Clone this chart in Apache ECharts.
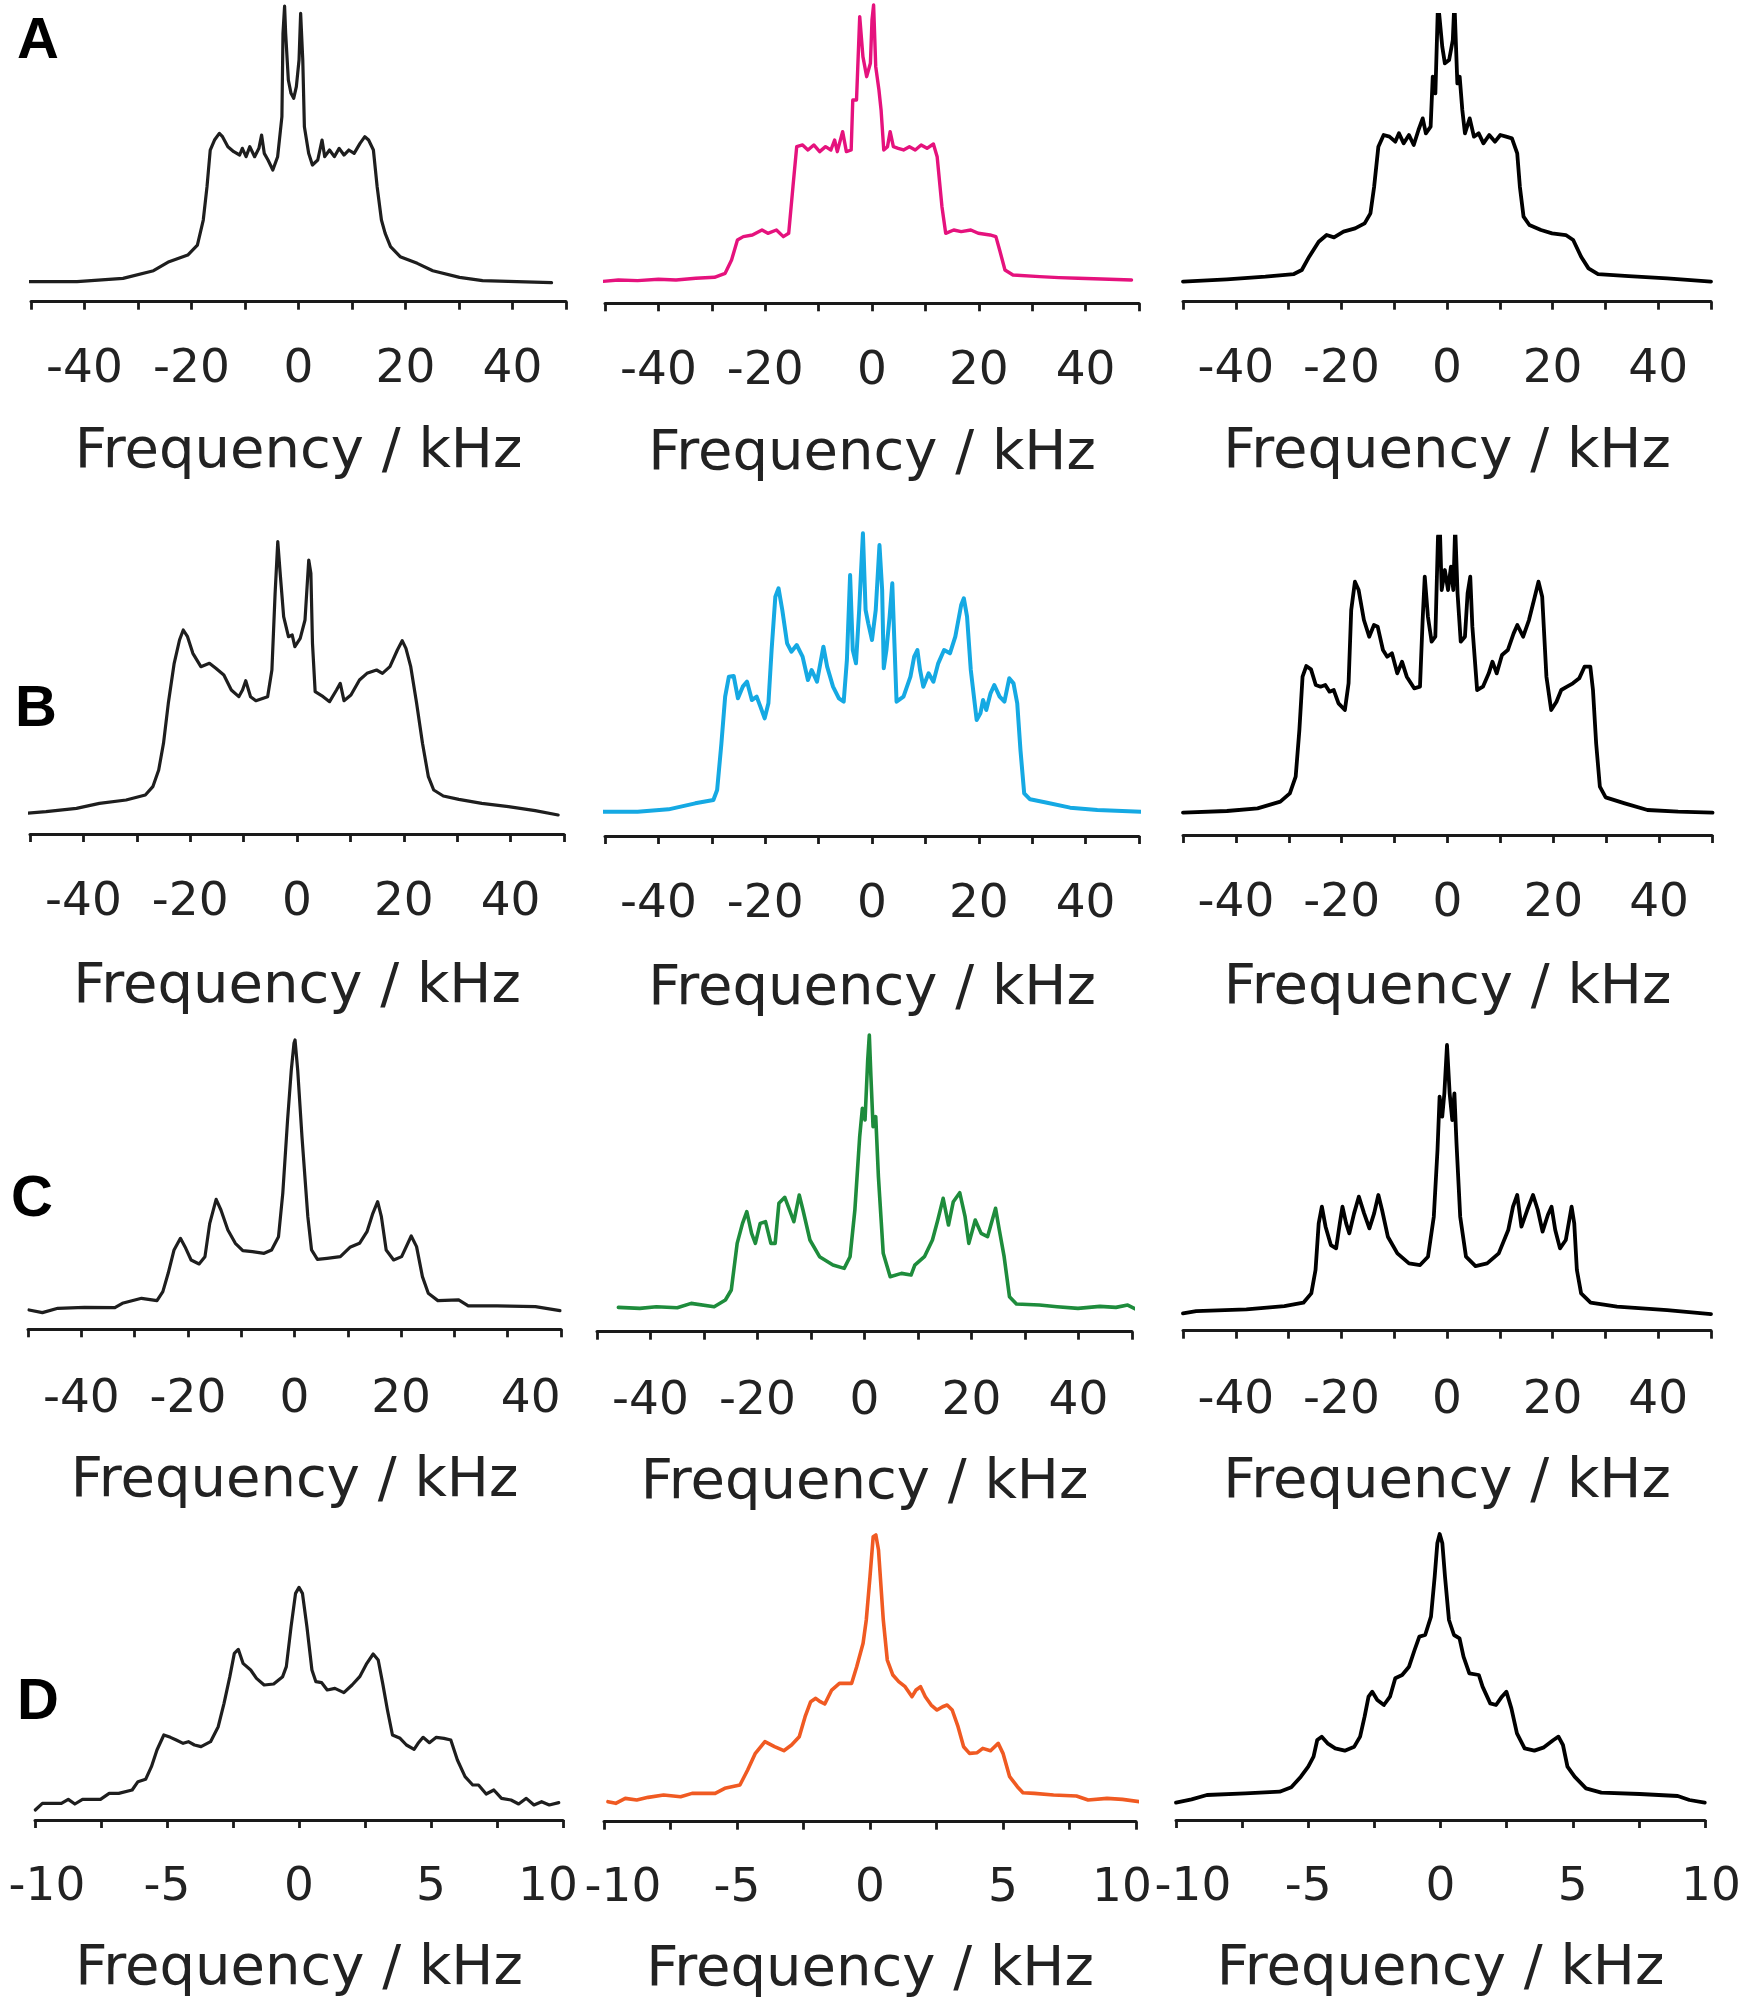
<!DOCTYPE html>
<html>
<head>
<meta charset="utf-8">
<script src="https://cdn.jsdelivr.net/npm/echarts@6/dist/echarts.min.js"></script>
<style>
html,body{margin:0;padding:0;background:#fff;}
#chart{width:1750px;height:2011px;}
</style>
</head>
<body>
<div id="chart"></div>
<script>
// ---- spectra: [frequency kHz, intensity a.u.] ----
const specA1 = [[-51.1,60],[-41.4,60],[-32.8,70],[-27.1,93],[-24.2,120],[-20.7,140],[-18.9,170],[-17.8,245],[-17.1,345],[-16.5,455],[-15.7,485],[-14.8,505],[-14.2,495],[-13.2,465],[-12.1,450],[-11.0,440],[-10.5,460],[-9.8,435],[-9.1,465],[-8.2,435],[-7.4,460],[-6.9,500],[-6.4,445],[-5.7,425],[-4.8,395],[-3.9,435],[-3.1,555],[-2.9,805],[-2.6,887],[-2.4,805],[-1.9,665],[-1.4,625],[-0.9,610],[-0.4,645],[0.1,725],[0.4,865],[0.8,725],[1.1,525],[1.9,445],[2.6,410],[3.6,425],[4.4,485],[4.9,435],[5.8,455],[6.7,435],[7.6,460],[8.5,440],[9.4,455],[10.4,445],[11.5,475],[12.4,495],[13.1,485],[14.0,455],[14.7,345],[15.5,245],[16.2,205],[17.2,165],[19.0,135],[22.2,115],[25.1,93],[30.1,73],[34.4,63],[40.8,60],[47.3,57]];
const specA2 = [[-51.0,65],[-47.5,70],[-43.9,68],[-40.0,72],[-36.7,70],[-33.0,75],[-29.5,78],[-27.5,90],[-26.3,130],[-25.2,190],[-24.1,200],[-22.4,205],[-20.6,220],[-19.5,210],[-17.9,220],[-16.6,200],[-15.6,210],[-14.8,350],[-14.1,470],[-13.0,475],[-12.0,460],[-10.9,475],[-9.8,455],[-8.7,470],[-7.7,460],[-7.0,490],[-6.5,455],[-5.5,515],[-4.8,455],[-3.9,460],[-3.6,610],[-2.9,610],[-2.3,860],[-1.7,740],[-1.0,680],[-0.3,720],[0.0,850],[0.3,895],[0.7,710],[1.3,640],[1.7,580],[2.2,460],[2.9,470],[3.4,515],[4.0,470],[4.9,465],[5.9,460],[7.0,470],[8.1,460],[9.2,475],[10.3,465],[11.5,478],[12.2,440],[13.1,290],[13.8,210],[15.3,220],[16.7,215],[18.5,220],[19.9,210],[22.1,205],[23.2,200],[23.9,160],[24.9,100],[26.4,85],[31.4,80],[35.0,77],[38.6,75],[43.0,73],[48.6,70]];
const specA3 = [[-50.0,60],[-41.7,67],[-34.4,75],[-29.0,83],[-27.5,95],[-26.1,135],[-24.3,180],[-22.8,200],[-21.4,193],[-19.6,210],[-17.4,220],[-15.6,235],[-14.5,265],[-13.8,345],[-13.0,465],[-12.0,500],[-10.9,495],[-9.8,480],[-9.1,505],[-8.2,475],[-7.2,500],[-6.3,470],[-5.4,515],[-4.6,550],[-4.0,505],[-3.1,525],[-2.7,675],[-2.2,625],[-1.7,900],[-0.9,765],[-0.4,715],[0.4,725],[1.1,785],[1.4,900],[1.96,655],[2.4,675],[2.9,575],[3.4,505],[4.3,550],[5.1,495],[6.0,505],[6.9,475],[8.0,500],[9.1,480],[10.1,500],[11.2,495],[12.3,490],[13.3,445],[13.8,345],[14.5,255],[15.6,230],[17.8,215],[19.9,205],[22.5,200],[23.9,185],[25.4,135],[26.8,100],[28.6,83],[34.4,77],[41.7,70],[50.0,60]];
const specB1 = [[-51.0,62],[-47.0,67],[-41.3,77],[-37.0,92],[-32.0,102],[-28.4,117],[-27.0,142],[-25.9,192],[-25.0,272],[-24.1,392],[-23.0,512],[-22.0,582],[-21.3,612],[-20.5,592],[-19.5,542],[-18.0,502],[-16.4,512],[-15.2,497],[-13.7,477],[-12.3,432],[-10.9,412],[-10.2,432],[-9.6,460],[-8.7,412],[-7.7,400],[-5.5,412],[-4.7,492],[-4.1,722],[-3.6,877],[-3.1,772],[-2.5,652],[-1.6,592],[-0.9,597],[-0.4,562],[0.6,587],[1.5,642],[2.2,822],[2.6,782],[2.9,572],[3.4,427],[4.9,412],[6.1,397],[7.4,432],[8.1,452],[8.8,400],[10.1,417],[11.7,462],[13.1,482],[14.9,492],[16.0,482],[17.4,502],[18.8,552],[19.7,580],[20.4,557],[21.3,502],[22.4,392],[23.5,272],[24.6,172],[25.6,132],[27.4,114],[30.3,104],[34.6,92],[39.6,82],[44.6,70],[48.9,57]];
const specB2 = [[-51.0,73],[-43.9,73],[-38.1,80],[-33.1,98],[-29.7,108],[-29.0,138],[-28.2,278],[-27.5,418],[-26.8,478],[-25.9,480],[-25.1,413],[-24.2,448],[-23.4,463],[-22.5,408],[-21.6,418],[-20.9,388],[-20.1,353],[-19.4,398],[-18.8,558],[-18.1,718],[-17.5,743],[-16.8,678],[-15.9,578],[-15.1,553],[-14.1,573],[-13.0,538],[-12.0,468],[-11.3,498],[-10.3,463],[-9.1,568],[-8.4,508],[-7.3,448],[-6.2,413],[-5.3,403],[-4.7,528],[-4.1,783],[-3.6,558],[-3.0,518],[-2.4,678],[-2.1,778],[-1.7,908],[-1.2,678],[-0.7,638],[0.0,588],[0.7,678],[1.4,873],[1.9,738],[2.2,503],[2.7,558],[3.3,658],[3.8,758],[4.2,578],[4.6,403],[5.9,418],[7.2,478],[7.9,538],[8.5,558],[9.0,498],[9.6,448],[10.6,488],[11.5,463],[12.4,518],[13.5,558],[14.6,548],[15.6,598],[16.7,693],[17.2,713],[17.8,658],[18.5,498],[19.6,348],[20.3,368],[20.8,408],[21.4,378],[22.2,428],[22.9,453],[23.9,418],[24.8,403],[25.7,473],[26.5,458],[27.2,398],[27.8,258],[28.5,128],[29.6,110],[32.8,100],[37.1,85],[42.2,78],[50.4,73]];
const specB3 = [[-50.0,67],[-41.7,72],[-35.9,80],[-31.6,100],[-29.8,125],[-28.7,175],[-28.0,315],[-27.4,475],[-26.7,507],[-25.8,497],[-24.9,450],[-24.0,445],[-23.1,450],[-22.3,430],[-21.5,435],[-20.6,395],[-19.4,375],[-18.7,455],[-18.2,675],[-17.5,760],[-16.8,735],[-15.8,645],[-14.8,595],[-13.9,630],[-13.2,625],[-12.2,555],[-11.4,535],[-10.5,545],[-9.5,485],[-8.6,520],[-7.7,475],[-6.3,440],[-5.2,445],[-4.7,645],[-4.3,775],[-3.7,655],[-3.0,580],[-2.3,595],[-1.8,895],[-1.45,925],[-1.1,735],[-0.5,795],[0.1,735],[0.65,805],[1.1,735],[1.45,925],[1.9,725],[2.5,580],[3.3,595],[3.8,725],[4.3,775],[4.7,625],[5.6,435],[6.7,445],[7.8,485],[8.5,520],[9.3,485],[10.3,540],[11.4,555],[12.5,605],[13.2,630],[14.3,595],[15.4,645],[16.5,715],[17.2,760],[17.9,715],[18.7,475],[19.6,375],[20.6,400],[21.5,435],[22.6,445],[23.7,455],[24.9,470],[25.9,505],[27.0,505],[27.5,435],[28.1,275],[28.8,145],[29.9,113],[33.5,95],[37.8,75],[43.6,70],[50.1,67]];
const specC1 = [[-49.8,58],[-47.3,50],[-44.4,63],[-39.4,66],[-33.7,65],[-32.3,78],[-28.7,93],[-25.8,86],[-24.7,113],[-23.7,168],[-22.6,238],[-21.4,273],[-20.4,243],[-19.4,208],[-17.9,196],[-16.8,218],[-15.9,318],[-14.7,390],[-13.8,358],[-12.5,298],[-11.1,258],[-9.7,236],[-7.9,233],[-5.7,228],[-4.3,238],[-3.0,278],[-2.2,408],[-1.3,628],[-0.6,778],[-0.1,858],[0.1,868],[0.6,778],[1.4,578],[2.5,338],[3.2,238],[4.3,210],[6.1,213],[8.6,218],[10.4,246],[12.2,258],[13.6,293],[14.7,348],[15.6,383],[16.3,338],[17.2,238],[18.6,208],[20.1,218],[21.9,280],[22.9,248],[24.0,158],[25.1,108],[26.9,86],[30.8,88],[32.6,70],[38.0,70],[45.2,68],[49.8,56]];
const specC2 = [[-46.0,73],[-42.0,70],[-38.9,75],[-35.0,72],[-32.4,85],[-28.1,75],[-26.0,95],[-24.9,125],[-23.8,265],[-22.8,325],[-22.0,360],[-21.1,295],[-20.4,265],[-19.5,325],[-18.5,330],[-17.5,265],[-16.7,265],[-16.0,385],[-14.9,403],[-14.0,365],[-13.2,330],[-12.2,410],[-11.5,365],[-10.2,275],[-8.4,225],[-5.9,200],[-3.8,190],[-2.7,225],[-1.8,365],[-0.9,585],[-0.4,670],[0.1,635],[0.6,815],[0.9,890],[1.2,765],[1.6,615],[2.1,645],[2.6,465],[3.5,235],[4.8,165],[6.9,175],[8.7,170],[9.4,200],[11.2,225],[12.7,275],[13.7,335],[14.7,400],[15.7,320],[16.6,390],[17.8,417],[18.8,345],[19.5,265],[20.7,335],[21.8,295],[23.0,285],[24.5,370],[25.2,305],[26.1,225],[27.1,105],[28.4,83],[32.7,80],[36.0,75],[39.9,70],[44.0,76],[47.0,73],[49.2,80],[51.7,60]];
const specC3 = [[-50.0,52],[-47.5,59],[-38.0,64],[-30.8,74],[-27.2,84],[-25.7,112],[-24.9,182],[-24.3,322],[-23.7,372],[-23.0,312],[-22.0,257],[-21.0,247],[-20.3,322],[-19.8,372],[-19.1,322],[-18.5,292],[-17.6,352],[-16.7,402],[-15.7,352],[-14.7,307],[-13.8,352],[-13.0,407],[-12.3,362],[-11.2,282],[-9.4,232],[-7.2,202],[-5.1,197],[-3.6,222],[-2.5,342],[-1.8,542],[-1.4,702],[-0.9,642],[-0.5,712],[0.0,857],[0.5,712],[1.0,632],[1.4,712],[1.8,562],[2.5,342],[3.6,222],[5.4,194],[7.6,202],[9.8,232],[11.6,302],[12.5,372],[13.3,407],[14.1,312],[15.2,362],[16.3,407],[17.2,362],[18.1,297],[19.1,347],[19.8,372],[20.5,302],[21.4,247],[22.5,272],[23.6,372],[24.1,322],[24.6,182],[25.4,112],[27.2,84],[32.2,72],[41.7,62],[50.0,50]];
const specD1 = [[-9.99,30],[-9.72,50],[-9.29,50],[-9.0,50],[-8.74,62],[-8.49,48],[-8.2,62],[-7.52,62],[-7.19,80],[-6.83,80],[-6.32,90],[-6.1,115],[-5.81,122],[-5.59,160],[-5.38,210],[-5.12,255],[-4.87,248],[-4.65,240],[-4.39,230],[-4.19,235],[-3.96,225],[-3.71,220],[-3.35,235],[-3.06,280],[-2.84,350],[-2.62,430],[-2.45,500],[-2.3,512],[-2.12,470],[-1.83,450],[-1.61,425],[-1.32,405],[-0.96,408],[-0.62,430],[-0.48,460],[-0.3,580],[-0.13,680],[0.0,698],[0.13,680],[0.3,580],[0.49,450],[0.64,415],[0.86,412],[1.07,390],[1.36,395],[1.7,382],[2.01,405],[2.3,430],[2.57,470],[2.81,498],[3.0,480],[3.17,410],[3.35,330],[3.54,255],[3.83,245],[4.07,225],[4.36,212],[4.51,230],[4.7,248],[4.94,232],[5.2,248],[5.49,245],[5.75,240],[6.0,180],[6.29,130],[6.58,105],[6.8,105],[7.09,78],[7.38,90],[7.67,65],[8.03,60],[8.32,48],[8.61,65],[8.9,45],[9.19,55],[9.48,45],[9.84,52]];
const specD2 = [[-9.85,60],[-9.56,55],[-9.2,70],[-8.77,65],[-8.34,73],[-7.76,80],[-7.12,75],[-6.69,85],[-6.18,85],[-5.82,85],[-5.46,100],[-4.89,110],[-4.6,155],[-4.31,205],[-3.95,240],[-3.59,225],[-3.24,213],[-2.95,230],[-2.66,255],[-2.44,315],[-2.23,360],[-2.04,370],[-1.87,360],[-1.7,353],[-1.44,395],[-1.15,415],[-0.69,415],[-0.5,465],[-0.26,535],[-0.14,605],[0.0,735],[0.12,855],[0.22,860],[0.32,815],[0.5,605],[0.65,485],[0.86,440],[1.08,420],[1.32,405],[1.58,375],[1.73,395],[1.9,405],[2.08,375],[2.3,350],[2.52,335],[2.73,345],[2.9,350],[3.09,335],[3.31,285],[3.52,225],[3.74,205],[4.03,207],[4.24,220],[4.53,213],[4.82,235],[5.0,205],[5.25,135],[5.54,105],[5.75,87],[6.18,85],[6.9,80],[7.76,77],[8.2,65],[8.91,70],[9.49,67],[10.14,60]];
const specD3 = [[-10.0,52],[-9.41,62],[-8.83,75],[-7.38,80],[-6.08,85],[-5.64,98],[-5.28,130],[-5.0,160],[-4.8,190],[-4.66,240],[-4.49,250],[-4.27,230],[-3.98,215],[-3.62,208],[-3.26,220],[-3.04,250],[-2.87,310],[-2.72,370],[-2.58,385],[-2.39,360],[-2.14,345],[-1.91,370],[-1.71,425],[-1.45,435],[-1.19,460],[-0.98,510],[-0.8,550],[-0.58,555],[-0.36,610],[-0.22,730],[-0.12,830],[-0.03,858],[0.07,830],[0.17,730],[0.32,600],[0.51,555],[0.72,545],[0.87,490],[1.09,440],[1.45,435],[1.59,400],[1.88,350],[2.1,345],[2.32,370],[2.49,385],[2.68,335],[2.89,260],[3.18,215],[3.55,208],[3.91,218],[4.27,240],[4.46,250],[4.63,225],[4.8,160],[5.07,130],[5.5,95],[6.08,82],[7.53,78],[8.97,72],[9.41,60],[9.99,52]];

// ---- axis definitions ----
const wideRange = {min: -50, max: 50, interval: 10, labelStep: 20};
const narrowRange = {min: -10, max: 10, interval: 2.5, labelStep: 5};
const rowLetters = ['A', 'B', 'C', 'D'];
const axisName = 'Frequency / kHz';

// ---- layout / style (not data) ----
const panels = [
  {data: specA1, row: 0, left: 31,   width: 535, top: 0,     axisY: 301.7,  yMax: 905, color: '#1e1e1e', lw: 3.2, clip: false, range: wideRange, shifts: {}},
  {data: specA2, row: 0, left: 605,  width: 534, top: 0,     axisY: 303.3,  yMax: 910, color: '#e5127d', lw: 3.4, clip: false, range: wideRange, shifts: {}},
  {data: specA3, row: 0, left: 1183, width: 528, top: 15,    axisY: 301.7,  yMax: 860, color: '#000000', lw: 3.8, clip: true,  range: wideRange, shifts: {}},
  {data: specB1, row: 1, left: 30,   width: 534, top: 510,   axisY: 834,    yMax: 972, color: '#1e1e1e', lw: 3.2, clip: false, range: wideRange, shifts: {}},
  {data: specB2, row: 1, left: 605,  width: 534, top: 510,   axisY: 836,    yMax: 978, color: '#15a9e3', lw: 4.0, clip: false, range: wideRange, shifts: {}},
  {data: specB3, row: 1, left: 1183, width: 529, top: 536.7, axisY: 835,    yMax: 895, color: '#000000', lw: 3.8, clip: true,  range: wideRange, shifts: {}},
  {data: specC1, row: 2, left: 28,   width: 533, top: 1010,  axisY: 1329.3, yMax: 958, color: '#1e1e1e', lw: 3.2, clip: false, range: wideRange, shifts: {40: 23}},
  {data: specC2, row: 2, left: 597,  width: 535, top: 1010,  axisY: 1331.7, yMax: 965, color: '#1e8c3c', lw: 3.6, clip: false, range: wideRange, shifts: {}},
  {data: specC3, row: 2, left: 1183, width: 528, top: 1010,  axisY: 1330.7, yMax: 962, color: '#000000', lw: 3.8, clip: false, range: wideRange, shifts: {}},
  {data: specD1, row: 3, left: 35,   width: 528, top: 1510,  axisY: 1820,   yMax: 930, color: '#1e1e1e', lw: 3.2, clip: false, range: narrowRange, shifts: {'-10': 12, '10': -15}},
  {data: specD2, row: 3, left: 604,  width: 532, top: 1510,  axisY: 1821.7, yMax: 935, color: '#f05a22', lw: 3.6, clip: false, range: narrowRange, shifts: {'-10': 19, '10': -14}},
  {data: specD3, row: 3, left: 1176, width: 529, top: 1510,  axisY: 1820,   yMax: 930, color: '#000000', lw: 3.8, clip: false, range: narrowRange, shifts: {'-10': 17, '10': 6}}
];
const labelMargins = [45, 45, 47, 44];
const nameGaps = [123, 125, 124, 121];
const letterPos = [{x: 17, y: 42}, {x: 15, y: 710}, {x: 11, y: 1200}, {x: 17, y: 1703}];

const FONT = 'DejaVu Sans';
const LABEL_SIZE = 47;
const NAME_SIZE = 56;
const TEXT_COLOR = '#222222';

const grids = [], xAxes = [], yAxes = [], series = [];
panels.forEach((p, i) => {
  grids.push({left: p.left, top: p.top, width: p.width, height: p.axisY - p.top,
              containLabel: false, outerBoundsMode: 'none'});
  const rich = {};
  Object.keys(p.shifts).forEach(k => {
    const s = p.shifts[k];
    const key = 'k' + (s >= 0 ? 'p' : 'n') + Math.abs(s);
    rich[key] = {fontFamily: FONT, fontSize: LABEL_SIZE, color: TEXT_COLOR,
                 padding: s >= 0 ? [0, 0, 0, 2 * s] : [0, 2 * Math.abs(s), 0, 0]};
  });
  const r = p.range;
  xAxes.push({
    type: 'value', gridIndex: i, min: r.min, max: r.max, interval: r.interval,
    position: 'bottom',
    axisLine: {show: true, onZero: false, lineStyle: {color: '#1a1a1a', width: 3}},
    axisTick: {show: true, inside: false, length: 8, lineStyle: {color: '#1a1a1a', width: 2.8}},
    splitLine: {show: false},
    axisLabel: {
      show: true, margin: labelMargins[p.row], fontFamily: FONT, fontSize: LABEL_SIZE, color: TEXT_COLOR,
      showMinLabel: true, showMaxLabel: true, hideOverlap: false,
      rich: rich,
      formatter: function (v) {
        if (Math.abs(v % r.labelStep) > 1e-9) return '';
        const key = String(v);
        if (p.shifts[key] !== undefined) {
          const s = p.shifts[key];
          return '{k' + (s >= 0 ? 'p' : 'n') + Math.abs(s) + '|' + key + '}';
        }
        return key;
      }
    },
    name: axisName, nameLocation: 'middle', nameGap: nameGaps[p.row],
    nameTextStyle: {fontFamily: FONT, fontSize: NAME_SIZE, color: TEXT_COLOR}
  });
  yAxes.push({type: 'value', gridIndex: i, min: 0, max: p.yMax, show: false,
              splitLine: {show: false}});
  series.push({
    type: 'line', xAxisIndex: i, yAxisIndex: i, data: p.data,
    showSymbol: false, symbol: 'none', clip: p.clip, smooth: false,
    lineStyle: {color: p.color, width: p.lw, join: 'round', cap: 'round'},
    silent: true, animation: false
  });
});

const graphics = rowLetters.map((t, i) => ({
  type: 'text', x: letterPos[i].x, y: letterPos[i].y, silent: true,
  style: {text: t, fill: '#000', fontFamily: 'Liberation Sans', fontWeight: 'bold',
          fontSize: 58, verticalAlign: 'middle', align: 'left'}
}));

const chart = echarts.init(document.getElementById('chart'), null, {renderer: 'canvas'});
chart.setOption({
  backgroundColor: '#ffffff',
  animation: false,
  grid: grids, xAxis: xAxes, yAxis: yAxes, series: series,
  graphic: graphics
});
</script>
</body>
</html>
